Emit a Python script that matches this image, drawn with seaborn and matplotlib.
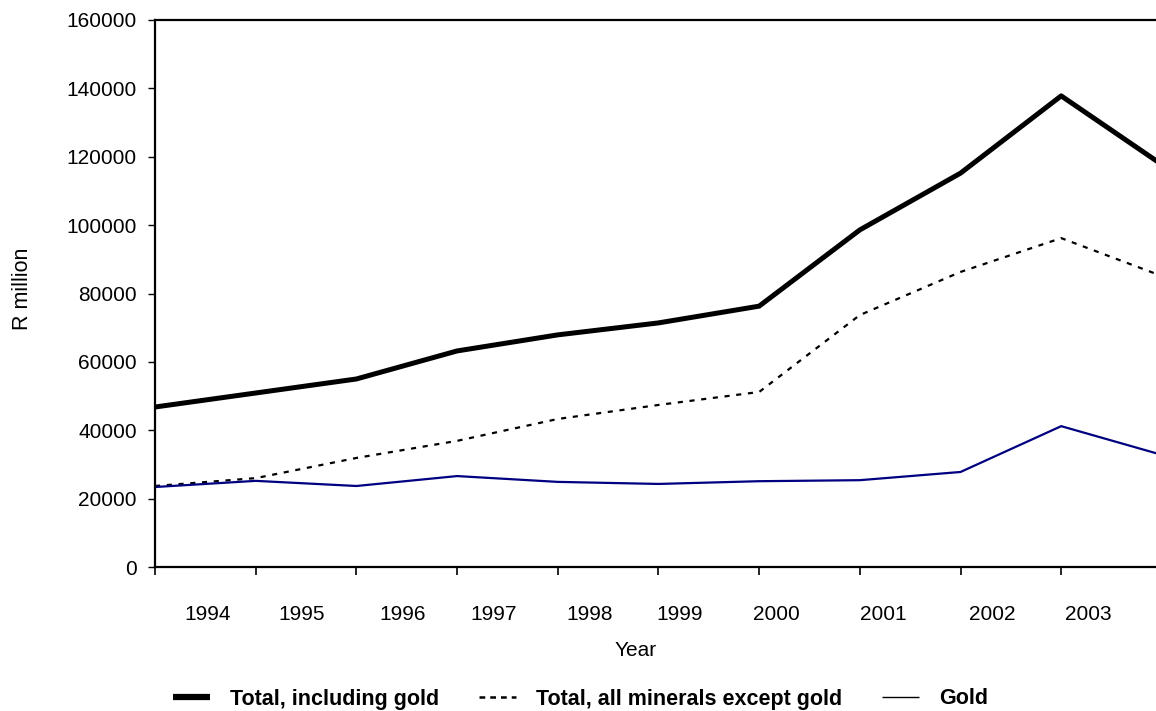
import pandas as pd
import matplotlib
matplotlib.use('Agg')
import matplotlib.pyplot as plt
from matplotlib.lines import Line2D
import seaborn as sns

# Values (R million), one point per year 1994..2004
years = [1994, 1995, 1996, 1997, 1998, 1999, 2000, 2001, 2002, 2003, 2004]
total_incl_gold = [46800, 50900, 55000, 63200, 67900, 71400, 76300, 98600, 115200, 137800, 117700]
total_excl_gold = [23700, 26000, 31900, 36900, 43300, 47400, 51200, 73700, 86300, 96200, 85100]
gold = [23400, 25200, 23700, 26600, 24900, 24300, 25100, 25400, 27800, 41200, 32800]

# year labels as they appear under the axis (only 1994..2003 shown)
tick_labels = ['1994', '1995', '1996', '1997', '1998', '1999', '2000', '2001', '2002', '2003']
label_pos = [0.52, 1.46, 2.46, 3.36, 4.32, 5.21, 6.17, 7.23, 8.32, 9.27]

data = pd.DataFrame({'pos': range(len(years)),
                     'total': total_incl_gold,
                     'excl': total_excl_gold,
                     'gold': gold})

sns.set_style('white')
plt.rcParams['font.family'] = ['Liberation Sans', 'DejaVu Sans']
plt.rcParams['text.color'] = 'black'
plt.rcParams['xtick.color'] = 'black'
plt.rcParams['ytick.color'] = 'black'

fig = plt.figure(figsize=(11.56, 7.11), dpi=100)
ax = fig.add_axes([0.1341, 0.2025, 0.871, 0.7694])

sns.lineplot(data=data, x='pos', y='excl', ax=ax, color='black', linewidth=1.6,
             linestyle=(0, (2.3, 3.0)))
sns.lineplot(data=data, x='pos', y='gold', ax=ax, color='#000080', linewidth=1.6)
sns.lineplot(data=data, x='pos', y='total', ax=ax, color='black', linewidth=3.6)

ax.set_xlim(0, 10)
ax.set_ylim(0, 160000)
ax.set_yticks(range(0, 160001, 20000))
ax.set_xticks(range(0, 11))
ax.set_xticklabels([])
ax.set_xticks(label_pos, minor=True)
ax.set_xticklabels(tick_labels, minor=True)
ax.tick_params(axis='x', which='major', direction='out', length=6, width=1.2, bottom=True)
ax.tick_params(axis='x', which='minor', length=0, pad=27, labelsize=15)
ax.tick_params(axis='y', direction='out', length=5, width=1, left=True, labelsize=15, pad=8)

for side in ['left', 'top', 'bottom']:
    ax.spines[side].set_color('black')
    ax.spines[side].set_linewidth(1.6)
ax.spines['right'].set_visible(False)

ax.set_xlabel('')
ax.set_ylabel('')
fig.text(636 / 1156, 1 - 651 / 711, 'Year', ha='center', va='center', fontsize=15)
fig.text(23 / 1156, 1 - 289 / 711, 'R million', ha='center', va='center', rotation=90, fontsize=15.5)

handles = [Line2D([], [], color='black', linewidth=4.5, solid_capstyle='butt'),
           Line2D([], [], color='black', linewidth=1.8, linestyle=(0, (2.3, 2.0)), dash_capstyle='butt'),
           Line2D([], [], color='black', linewidth=1.0, solid_capstyle='butt')]
labels = ['Total, including gold', 'Total, all minerals except gold', 'Gold']
fig.legend(handles, labels, loc='center left', bbox_to_anchor=(173 / 1156, 1 - 699 / 711),
           ncol=3, frameon=False, borderpad=0, borderaxespad=0,
           handlelength=1.7, handletextpad=0.95, columnspacing=1.85,
           prop={'weight': 'bold', 'size': 15.5})

fig.savefig('out.png', dpi=100)
